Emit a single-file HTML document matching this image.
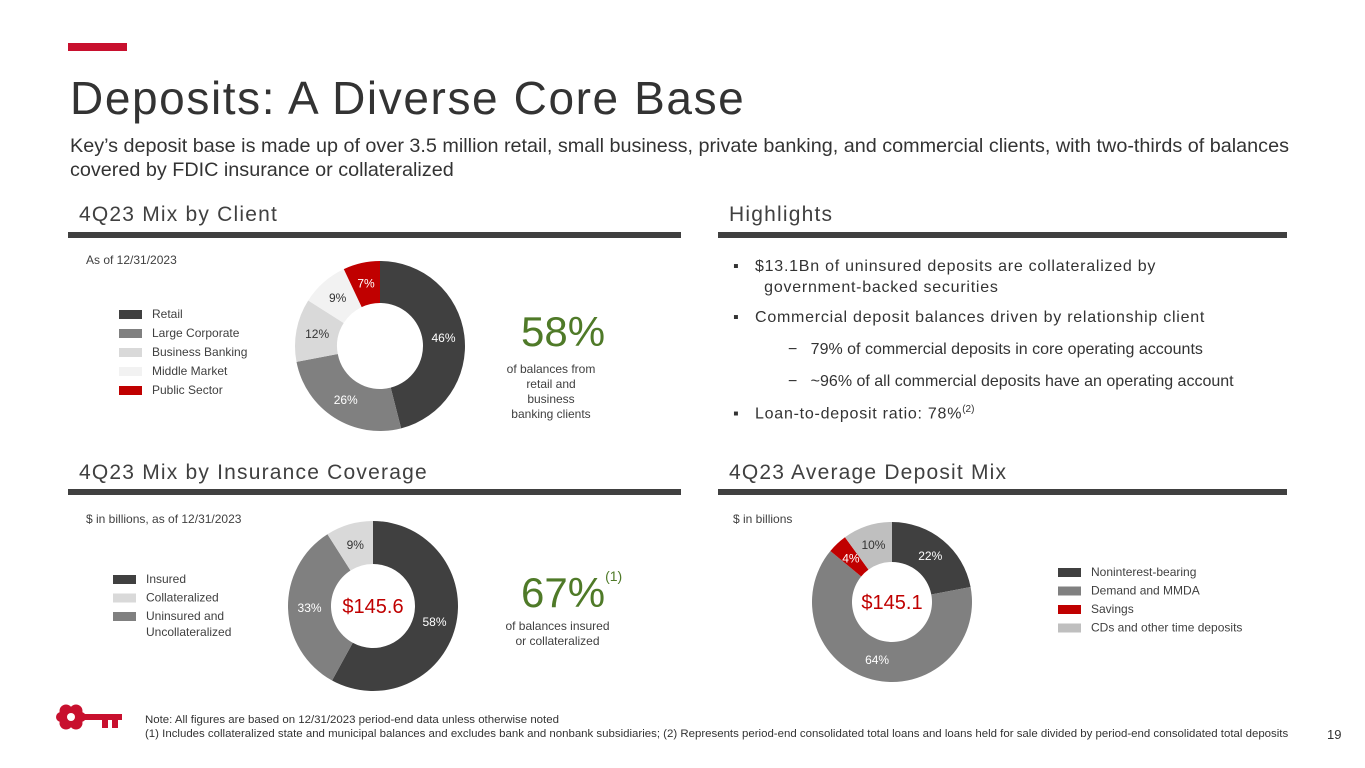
<!DOCTYPE html>
<html><head><meta charset="utf-8"><style>
body{margin:0;width:1365px;height:768px;background:#fff;font-family:"Liberation Sans",sans-serif;position:relative;overflow:hidden;color:#333}
.a{position:absolute;white-space:nowrap}
.hdr{font-size:21px;color:#404040;letter-spacing:1.2px}
.bar{position:absolute;height:6px;background:#404040}
.lg{font-size:12px;color:#404040}
.bul{font-size:16px;color:#333;letter-spacing:0.75px}
</style></head><body>
<div class="a" style="left:68px;top:43px;width:59px;height:8px;background:#c8102e"></div>
<div class="a" style="left:70px;top:71px;font-size:46px;color:#333;letter-spacing:1.6px">Deposits: A Diverse Core Base</div>
<div class="a" style="left:70px;top:134px;font-size:19.8px;line-height:24px;color:#333;white-space:normal;width:1240px">Key’s deposit base is made up of over 3.5 million retail, small business, private banking, and commercial clients, with two-thirds of balances<br>covered by FDIC insurance or collateralized</div>

<div class="a hdr" style="left:79px;top:203px">4Q23 Mix by Client</div>
<div class="bar" style="left:68px;top:232px;width:613px"></div>
<div class="a hdr" style="left:729px;top:203px">Highlights</div>
<div class="bar" style="left:718px;top:232px;width:569px"></div>
<div class="a hdr" style="left:79px;top:461px">4Q23 Mix by Insurance Coverage</div>
<div class="bar" style="left:68px;top:489px;width:613px"></div>
<div class="a hdr" style="left:729px;top:461px">4Q23 Average Deposit Mix</div>
<div class="bar" style="left:718px;top:489px;width:569px"></div>

<div class="a lg" style="left:86px;top:253px">As of 12/31/2023</div>
<div class="a lg" style="left:86px;top:512px">$ in billions, as of 12/31/2023</div>
<div class="a lg" style="left:733px;top:512px">$ in billions</div>

<svg class="a" style="left:0;top:0" width="1365" height="768" id="svg"></svg>

<div class="a" style="left:521px;top:308px;font-size:42px;color:#4f7a28">58%</div>
<div class="a lg" style="left:505px;top:362px;width:92px;text-align:center;white-space:normal;line-height:15px">of balances from retail and business banking clients</div>
<div class="a" style="left:521px;top:568px;font-size:42px;color:#4f7a28">67%<span style="font-size:14px;vertical-align:26px;color:#4f7a28">(1)</span></div>
<div class="a lg" style="left:500px;top:619px;width:115px;text-align:center;white-space:normal;line-height:15px">of balances insured or collateralized</div>

<div class="a bul" style="left:733px;top:256px;line-height:21px">▪&nbsp;&nbsp;&nbsp;$13.1Bn of uninsured deposits are collateralized by<br>&nbsp;&nbsp;&nbsp;&nbsp;&nbsp;&nbsp;government-backed securities</div>
<div class="a bul" style="left:733px;top:309px">▪&nbsp;&nbsp;&nbsp;Commercial deposit balances driven by relationship client</div>
<div class="a bul" style="left:788px;top:341px;letter-spacing:0">−&nbsp;&nbsp;&nbsp;79% of commercial deposits in core operating accounts</div>
<div class="a bul" style="left:788px;top:373px;letter-spacing:0">−&nbsp;&nbsp;&nbsp;~96% of all commercial deposits have an operating account</div>
<div class="a bul" style="left:733px;top:404px">▪&nbsp;&nbsp;&nbsp;Loan-to-deposit ratio: 78%<sup style="font-size:10px;letter-spacing:0">(2)</sup></div>

<svg class="a" style="left:56px;top:702px" width="72" height="34">
<g fill="#c8102e"><circle cx="10" cy="9" r="6.5"/><circle cx="20" cy="9" r="6.5"/><circle cx="10" cy="21" r="6.5"/><circle cx="20" cy="21" r="6.5"/><circle cx="5" cy="15" r="5"/><circle cx="25" cy="15" r="5"/><rect x="26" y="12" width="40" height="6"/><rect x="46" y="16" width="6" height="10"/><rect x="56" y="16" width="6" height="10"/></g>
<circle cx="15" cy="15" r="4" fill="#fff"/></svg>
<div class="a" style="left:145px;top:713px;font-size:11.45px;line-height:14px;color:#333">Note: All figures are based on 12/31/2023 period-end data unless otherwise noted<br>(1) Includes collateralized state and municipal balances and excludes bank and nonbank subsidiaries; (2) Represents period-end consolidated total loans and loans held for sale divided by period-end consolidated total deposits</div>
<div class="a" style="left:1327px;top:727px;font-size:13px;color:#333">19</div>

<script>
const clientCats=["Retail","Large Corporate","Business Banking","Middle Market","Public Sector"];
const clientVals=[46,26,12,9,7];
const insCats=["Insured","Uninsured and Uncollateralized","Collateralized"];
const insVals=[58,33,9];
const avgCats=["Noninterest-bearing","Demand and MMDA","Savings","CDs and other time deposits"];
const avgVals=[22,64,4,10];

const svg=document.getElementById('svg');
const NS='http://www.w3.org/2000/svg';
function mk(t,a){const e=document.createElementNS(NS,t);for(const k in a)e.setAttribute(k,a[k]);svg.appendChild(e);return e;}
function donut(name,cx,cy,ro,ri,vals,cats,cols,txtCols,center){
  const tot=vals.reduce((a,b)=>a+b,0);let acc=0;
  vals.forEach((v,i)=>{
    const a0=acc/tot*2*Math.PI-Math.PI/2;acc+=v;const a1=acc/tot*2*Math.PI-Math.PI/2;
    const lg=(a1-a0)>Math.PI?1:0;
    const p=(r,a)=>[cx+r*Math.cos(a),cy+r*Math.sin(a)];
    const [x0,y0]=p(ro,a0),[x1,y1]=p(ro,a1),[x2,y2]=p(ri,a1),[x3,y3]=p(ri,a0);
    const path=mk('path',{d:`M${x0},${y0}A${ro},${ro} 0 ${lg} 1 ${x1},${y1}L${x2},${y2}A${ri},${ri} 0 ${lg} 0 ${x3},${y3}Z`,fill:cols[i]});
    
    
    const am=(a0+a1)/2,rm=(ro+ri)/2;
    const t=mk('text',{x:cx+rm*Math.cos(am),y:cy+rm*Math.sin(am)+4,'text-anchor':'middle','font-size':12,fill:txtCols[i],'font-family':'Liberation Sans'});
    t.textContent=v+'%';
    
    
  });
  if(center){const t=mk('text',{x:cx,y:cy+7,'text-anchor':'middle','font-size':20,fill:'#c00000','font-family':'Liberation Sans'});t.textContent=center;
    
    }
}
function legend(name,x,y,step,cats,cols){
  cats.forEach((c,i)=>{
    const r=mk('rect',{x:x,y:y+i*step-8,width:23,height:9,fill:cols[i]});
    
    
    const lines=c==="Uninsured and Uncollateralized"?["Uninsured and","Uncollateralized"]:[c];
    lines.forEach((l,j)=>{const t=mk('text',{x:x+33,y:y+i*step+j*16,'font-size':12,fill:'#404040','font-family':'Liberation Sans'});t.textContent=l;
      
      });
  });
}
const c1=['#404040','#808080','#d9d9d9','#f2f2f2','#c00000'];
donut('client',380,346,85,43,clientVals,clientCats,c1,['#fff','#fff','#333','#333','#fff']);
legend('client-legend',119,318,19,clientCats,c1);
const c2=['#404040','#808080','#d9d9d9'];
donut('insurance',373,606,85,42,insVals,insCats,c2,['#fff','#fff','#333'],'$145.6');
legend('insurance-legend',113,583,18.5,["Insured","Collateralized","Uninsured and Uncollateralized"],['#404040','#d9d9d9','#808080']);
const c3=['#404040','#808080','#c00000','#bfbfbf'];
donut('avg-mix',892,602,80,40,avgVals,avgCats,c3,['#fff','#fff','#fff','#333'],'$145.1');
legend('avg-legend',1058,576,18.5,avgCats,c3);
</script>
</body></html>
